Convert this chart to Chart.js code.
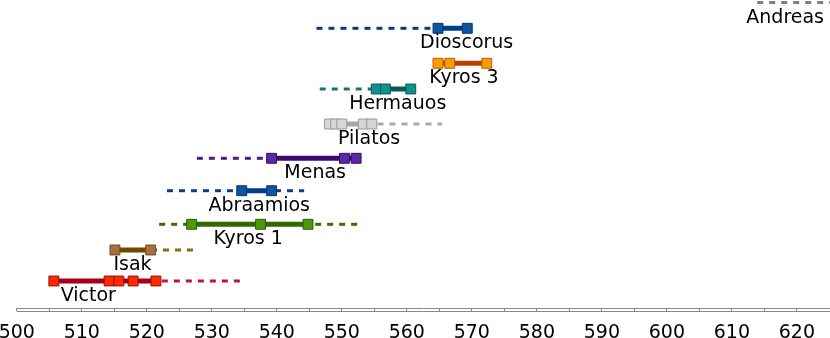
<!DOCTYPE html>
<html>
<head>
<meta charset="utf-8">
<script src="https://cdn.jsdelivr.net/npm/chart.js@4/dist/chart.umd.min.js"></script>
<style>
  html, body { margin: 0; padding: 0; background: #ffffff; }
  #wrap { width: 830px; height: 338px; position: relative; }
</style>
</head>
<body>
<div id="wrap"><canvas id="c"></canvas></div>
<script>
// ---- data ----
const people = ["Victor", "Isak", "Kyros 1", "Abraamios", "Menas", "Pilatos", "Hermauos", "Kyros 3", "Dioscorus", "Andreas"];
// attested years (markers, joined by a solid line)
const attested = [
  [505.7, 514.2, 515.7, 517.9, 521.4],
  [515.1, 520.6],
  [526.9, 537.5, 544.8],
  [534.6, 539.2],
  [539.2, 550.4, 552.2],
  [548.1, 549.05, 550.0, 553.3, 554.6],
  [555.3, 556.7, 560.6],
  [564.8, 566.6, 572.3],
  [564.8, 569.3],
  []
];
// possible activity range (dashed)
const rangeFrom = [505.7, 515.1, 521.9, 523.1, 527.7, 548.1, 546.6, 564.8, 546.1, 613.9];
const rangeTo   = [534.6, 527.7, 553.3, 544.2, 552.2, 565.4, 560.6, 572.3, 569.3, 627];
// row level of each person
const rowLevel  = [27, 58, 83.7, 117.3, 149.7, 184, 219, 244.7, 279.7, 305.5];
// year at which each name label is centred
const labelAt   = [511.0, 517.8, 535.6, 537.3, 545.9, 554.2, 558.6, 568.8, 569.2, 618.2];
// axis
const axisMin = 500, axisMax = 625.1, tickStep = 5, labelStep = 10;

// ---- styles ----
const markFill   = ["#ff2a00", "#a8703c", "#4e9a06", "#0c56a0", "#5a2aa0", "#d6d6d6", "#12928e", "#ff9a00", "#0c56a0", "#888888"];
const markEdge   = ["#9a1010", "#6e4a1c", "#2a5a00", "#06356b", "#36106c", "#9a9a9a", "#0a5a5a", "#b06000", "#06356b", "#666666"];
const lineColor  = ["#a5001e", "#6b4a00", "#2e6a00", "#003e8a", "#3a0a70", "#a8a8a8", "#0a5a58", "#b84000", "#003e8a", "#888888"];
const dashColor  = ["#c4123a", "#8a6a1a", "#3a7000", "#0a3d8a", "#4b1a8c", "#aaaaaa", "#1a7373", "#b84000", "#0a3a78", "#808080"];

const FONT = "'DejaVu Sans', sans-serif";

const datasets = [];
people.forEach((name, i) => {
  datasets.push({
    label: name + " range",
    data: [{x: rangeFrom[i], y: rowLevel[i]}, {x: rangeTo[i], y: rowLevel[i]}],
    showLine: true,
    borderColor: dashColor[i],
    borderWidth: 3,
    borderDash: [6, 6],
    pointRadius: 0,
    order: 3
  });
  if (attested[i].length) {
    datasets.push({
      label: name,
      data: attested[i].map(v => ({x: v, y: rowLevel[i]})),
      showLine: true,
      borderColor: lineColor[i],
      borderWidth: 5,
      pointStyle: 'rect',
      pointRadius: 7,
      pointHoverRadius: 7,
      pointBackgroundColor: markFill[i],
      pointBorderColor: markEdge[i],
      pointBorderWidth: 1,
      order: 1
    });
  }
});

const labelPlugin = {
  id: 'names',
  afterDatasetsDraw(chart) {
    const ctx = chart.ctx, xs = chart.scales.x, ys = chart.scales.y;
    ctx.save();
    ctx.font = "19px " + FONT;
    ctx.fillStyle = "#000000";
    ctx.textAlign = "center";
    ctx.textBaseline = "alphabetic";
    people.forEach((name, i) => {
      ctx.fillText(name, xs.getPixelForValue(labelAt[i]), ys.getPixelForValue(rowLevel[i]) + 20);
    });
    ctx.restore();
  }
};

const axisBoxPlugin = {
  id: 'axisbox',
  afterDraw(chart) {
    const ctx = chart.ctx, a = chart.chartArea;
    ctx.save();
    ctx.strokeStyle = "#888888";
    ctx.lineWidth = 1;
    ctx.beginPath();
    ctx.moveTo(a.left, Math.round(a.bottom) + 3.5);
    ctx.lineTo(a.right, Math.round(a.bottom) + 3.5);
    ctx.stroke();
    ctx.restore();
  }
};

new Chart(document.getElementById('c'), {
  type: 'scatter',
  data: { datasets },
  options: {
    responsive: true,
    maintainAspectRatio: false,
    animation: false,
    layout: { padding: 0, autoPadding: false },
    plugins: { legend: { display: false }, tooltip: { enabled: false } },
    scales: {
      x: {
        type: 'linear',
        min: axisMin,
        max: axisMax,
        border: { display: true, color: "#888888", width: 1 },
        grid: { drawOnChartArea: false, drawTicks: true, tickLength: 3, color: "#888888" },
        ticks: {
          stepSize: tickStep,
          autoSkip: false,
          maxRotation: 0,
          padding: 11,
          color: "#000000",
          font: { family: FONT, size: 19 },
          callback: v => (Math.abs(v % labelStep) < 1e-9 ? String(v) : '')
        },
        afterFit(scale) { scale.height = 30; scale.paddingLeft = 16.8; scale.paddingRight = 0; }
      },
      y: {
        type: 'linear',
        display: false,
        min: 0,
        max: 308
      }
    }
  },
  plugins: [labelPlugin, axisBoxPlugin]
});
</script>
</body>
</html>
